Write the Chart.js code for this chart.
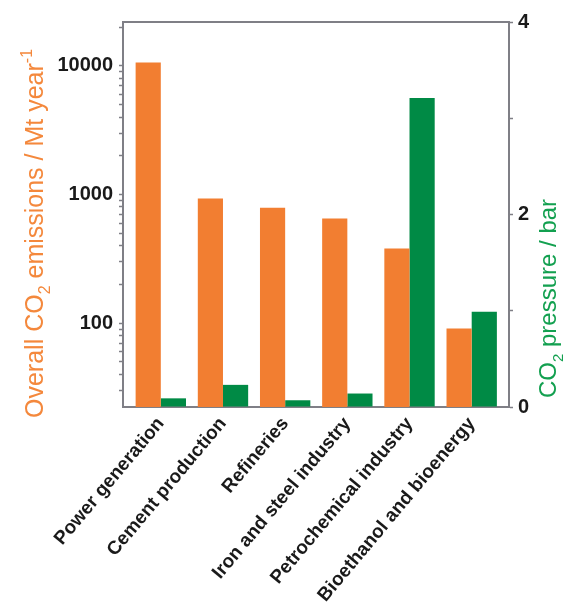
<!DOCTYPE html>
<html>
<head>
<meta charset="utf-8">
<script src="https://cdn.jsdelivr.net/npm/chart.js@4/dist/chart.umd.min.js"></script>
<style>
  html, body { margin: 0; padding: 0; background: #fff; }
  #wrap { width: 571px; height: 608px; }
</style>
</head>
<body>
<div id="wrap"><canvas id="c" width="571" height="608"></canvas></div>
<script>
// ---- data ----
const categories = ['Power generation', 'Cement production', 'Refineries', 'Iron and steel industry', 'Petrochemical industry', 'Bioethanol and bioenergy'];
const emissions = [10600, 930, 790, 650, 380, 91];        // Mt / year (log axis)
const pressure = [0.09, 0.23, 0.07, 0.14, 3.21, 0.99];     // bar
const leftMajorTicks = [100, 1000, 10000];
const rightTicks = [0, 1, 2, 3, 4];
const rightLabelled = [0, 2, 4];
const leftTitle = [['Overall CO', 0], ['2', -1], [' emissions / Mt year', 0], ['-1', 1]];
const rightTitle = [['CO', 0], ['2', -1], [' pressure / bar', 0]];

const ORANGE = '#F27E31';
const GREEN = '#008A45';
const FRAME = '#7f7f86';

function drawRich(ctx, segs, x, y, size, color) {
  ctx.save();
  ctx.translate(x, y);
  ctx.rotate(-Math.PI / 2);
  ctx.fillStyle = color;
  ctx.textBaseline = 'alphabetic';
  ctx.textAlign = 'left';
  let cx = 0;
  for (const [t, k] of segs) {
    const fs = k === 0 ? size : Math.round(size * 0.62);
    ctx.font = fs + 'px "Liberation Sans", Arial, sans-serif';
    const dy = k === -1 ? size * 0.28 : (k === 1 ? -size * 0.45 : 0);
    ctx.fillText(t, cx, dy);
    cx += ctx.measureText(t).width;
  }
  ctx.restore();
}

const titlePlugin = {
  id: 'axisTitles',
  afterDraw(chart) {
    const ctx = chart.ctx;
    drawRich(ctx, leftTitle, 43, 418, 25, '#F4883C');
    drawRich(ctx, rightTitle, 556, 398, 24, '#13A050');
  }
};

const ctx = document.getElementById('c').getContext('2d');
new Chart(ctx, {
  type: 'bar',
  data: {
    datasets: [
      {
        label: 'Overall CO2 emissions',
        data: emissions.map((v, i) => ({ x: i, y: v })),
        backgroundColor: ORANGE,
        yAxisID: 'yL',
        xAxisID: 'x',
        categoryPercentage: 0.81,
        barPercentage: 1.0
      },
      {
        label: 'CO2 pressure',
        data: pressure.map((v, i) => ({ x: i, y: v })),
        backgroundColor: GREEN,
        yAxisID: 'yR',
        xAxisID: 'x',
        categoryPercentage: 0.81,
        barPercentage: 1.0
      }
    ]
  },
  options: {
    responsive: false,
    animation: false,
    devicePixelRatio: 1,
    layout: { padding: { top: 22, left: 0, right: 0, bottom: 0 } },
    plugins: { legend: { display: false }, tooltip: { enabled: false } },
    scales: {
      x: {
        type: 'linear',
        position: 'bottom',
        min: -0.608,
        max: 5.6,
        offset: false,
        grid: { display: false, drawTicks: false },
        border: { display: true, color: FRAME, width: 2 },
        afterBuildTicks: s => { s.ticks = categories.map((_, i) => ({ value: i })); },
        afterFit: s => { s.height = 201; },
        ticks: {
          autoSkip: false,
          minRotation: 50,
          maxRotation: 50,
          padding: 6,
          color: '#1a1a1a',
          font: { family: '"Liberation Sans", Arial, sans-serif', size: 19, weight: 'bold' },
          callback: v => categories[v]
        }
      },
      xTop: {
        type: 'linear',
        position: 'top',
        grid: { display: false, drawTicks: false },
        border: { display: true, color: FRAME, width: 2 },
        ticks: { display: false },
        afterFit: s => { s.height = 0; }
      },
      yL: {
        type: 'logarithmic',
        position: 'left',
        min: 22.3,
        max: 21900,
        grid: { display: true, drawOnChartArea: false, drawTicks: true, tickLength: 4, tickColor: FRAME, tickWidth: 1.5 },
        border: { display: true, color: FRAME, width: 2 },
        afterBuildTicks: s => {
          s.ticks = s.ticks.filter(t => {
            const p = Math.pow(10, Math.floor(Math.log10(t.value) + 1e-9));
            const m = t.value / p;
            return Math.abs(m - Math.round(m)) < 1e-6 && t.value > s.min && t.value < s.max;
          });
        },
        afterFit: s => { s.width = 123; },
        ticks: {
          autoSkip: false,
          padding: 6,
          color: '#1a1a1a',
          font: { family: '"Liberation Sans", Arial, sans-serif', size: 20, weight: 'bold' },
          callback: v => leftMajorTicks.includes(v) ? String(v) : ''
        }
      },
      yR: {
        type: 'linear',
        position: 'right',
        min: 0,
        max: 4,
        grid: { display: true, drawOnChartArea: false, drawTicks: true, tickLength: 4, tickColor: FRAME, tickWidth: 1.5 },
        border: { display: true, color: FRAME, width: 2 },
        afterBuildTicks: s => { s.ticks = rightTicks.map(v => ({ value: v })); },
        afterFit: s => { s.width = 62; },
        ticks: {
          autoSkip: false,
          padding: 5,
          color: '#1a1a1a',
          font: { family: '"Liberation Sans", Arial, sans-serif', size: 20, weight: 'bold' },
          callback: v => rightLabelled.includes(v) ? String(v) : ''
        }
      }
    }
  },
  plugins: [titlePlugin]
});
</script>
</body>
</html>
